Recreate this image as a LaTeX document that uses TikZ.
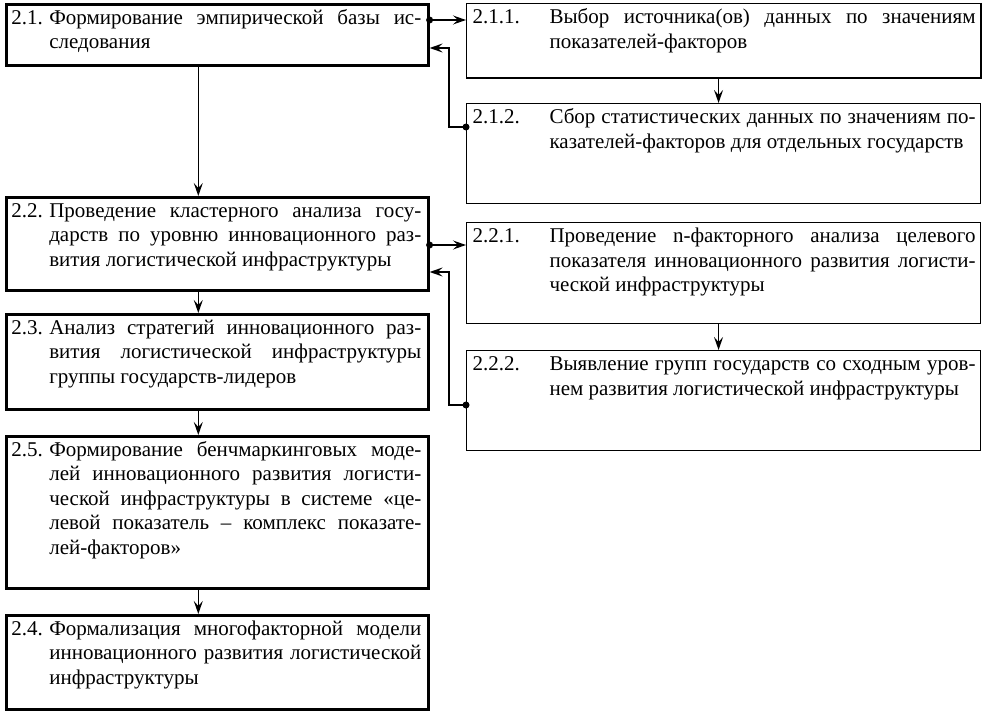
\documentclass[tikz,border=0pt]{standalone}
\usepackage{fontspec}
\setmainfont{Liberation Serif}
\usetikzlibrary{arrows.meta,calc}
\newcommand{\LBoxText}[3]{\parbox[c][#1][t]{422bp}{\tolerance=10000\hbadness=10000\hyphenpenalty=10000\exhyphenpenalty=10000\rule{0pt}{20bp}\hspace*{5bp}\makebox[38bp][l]{#2}\parbox[t]{372bp}{\tolerance=10000\hbadness=10000\hyphenpenalty=10000\exhyphenpenalty=10000 #3}}}
\newcommand{\RBoxText}[3]{\parbox[c][#1][t]{514bp}{\tolerance=10000\hbadness=10000\hyphenpenalty=10000\exhyphenpenalty=10000\rule{0pt}{20bp}\hspace*{6bp}\makebox[77bp][l]{#2}\parbox[t]{426bp}{\tolerance=10000\hbadness=10000\hyphenpenalty=10000\exhyphenpenalty=10000 #3}}}
\tikzset{
  lbox/.style={draw, line width=2.6bp, inner sep=0pt, anchor=north west},
  rbox/.style={draw, line width=1.1bp, inner sep=0pt, anchor=north west},
  arr/.style={line width=1.4bp, -{Stealth[length=13bp,width=9bp,inset=5bp]}},
  dotmark/.style={circle, fill, inner sep=0pt, minimum size=7bp},
}
\begin{document}
\begin{tikzpicture}[x=1bp,y=-1bp,font=\fontsize{21bp}{24.5bp}\selectfont]
\useasboundingbox (0,0) rectangle (985,711);
\fill[white] (0,0) rectangle (985,711);
% left column
\node[lbox] (b21) at (5,3) {\LBoxText{61bp}{2.1.}{Формирование эмпирической базы ис-\linebreak следования}};
\node[lbox] (b22) at (5,196) {\LBoxText{93bp}{2.2.}{Проведение кластерного анализа госу-\linebreak дарств по уровню инновационного раз-\linebreak вития логистической инфраструктуры}};
\node[lbox] (b23) at (5,313) {\LBoxText{95bp}{2.3.}{Анализ стратегий инновационного раз-\linebreak вития логистической инфраструктуры\linebreak группы государств-лидеров}};
\node[lbox] (b25) at (5,435) {\LBoxText{152bp}{2.5.}{Формирование бенчмаркинговых моде-\linebreak лей инновационного развития логисти-\linebreak ческой инфраструктуры в системе «це-\linebreak левой показатель – комплекс показате-\linebreak лей-факторов»}};
\node[lbox] (b24) at (5,614) {\LBoxText{94bp}{2.4.}{Формализация многофакторной модели\linebreak инновационного развития логистической\linebreak инфраструктуры}};
% right column
\node[rbox] (b211) at (466,3) {\RBoxText{74bp}{2.1.1.}{Выбор источника(ов) данных по значениям\linebreak показателей-факторов}};
\node[rbox] (b212) at (466,103) {\RBoxText{100bp}{2.1.2.}{Сбор статистических данных по значениям по-\linebreak казателей-факторов для отдельных государств}};
\node[rbox] (b221) at (466,222) {\RBoxText{101bp}{2.2.1.}{Проведение n-факторного анализа целевого\linebreak показателя инновационного развития логисти-\linebreak ческой инфраструктуры}};
\node[rbox] (b222) at (466,350) {\RBoxText{100bp}{2.2.2.}{Выявление групп государств со сходным уров-\linebreak нем развития логистической инфраструктуры}};
\draw[line width=2bp] (b211.north east) -- (b211.south east) -- (b211.south west);
% vertical arrows
\draw[arr] ([xshift=-19bp]b21.south) -- ([xshift=-19bp]b22.north);
\draw[arr] ([xshift=-19bp]b22.south) -- ([xshift=-19bp]b23.north);
\draw[arr] ([xshift=-19bp]b23.south) -- ([xshift=-19bp]b25.north);
\draw[arr] ([xshift=-19bp]b25.south) -- ([xshift=-19bp]b24.north);
\draw[arr] ([xshift=-5bp]b211.south) -- ([xshift=-5bp]b212.north);
\draw[arr] ([xshift=-5bp]b221.south) -- ([xshift=-5bp]b222.north);
% side links
\path ([yshift=-17bp]b21.north east) coordinate (d1);
\draw[arr] (d1) -- (d1 -| b211.west);
\node[dotmark] (p1) at (d1) {};
\path ([yshift=-24bp]b212.north west) coordinate (d2);
\draw[arr] (d2) -- ++(-17,0) |- ([yshift=-45bp]b21.north east);
\node[dotmark] (p2) at (d2) {};
\path ([yshift=-49bp]b22.north east) coordinate (d3);
\draw[arr] (d3) -- (d3 -| b221.west);
\node[dotmark] (p3) at (d3) {};
\path ([yshift=-55bp]b222.north west) coordinate (d4);
\draw[arr] (d4) -- ++(-17,0) |- ([yshift=-76bp]b22.north east);
\node[dotmark] (p4) at (d4) {};
\end{tikzpicture}
\end{document}
